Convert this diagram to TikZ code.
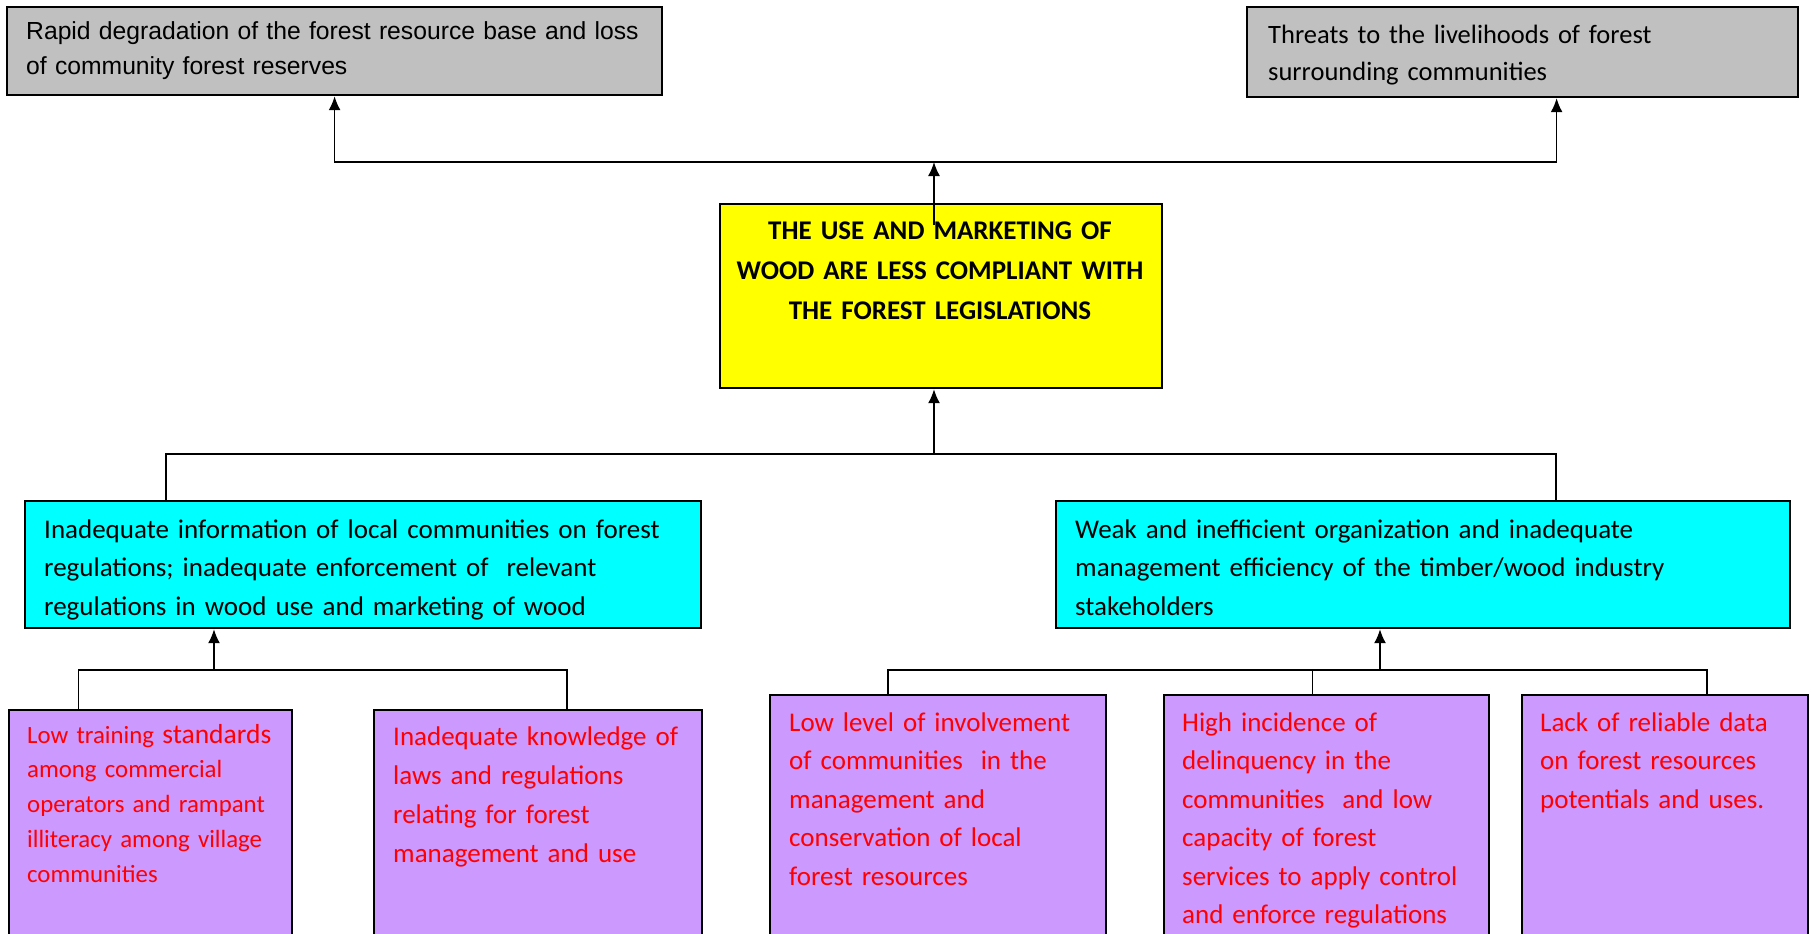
\documentclass[tikz,border=0pt]{standalone}
\usepackage{fontspec}
\setmainfont{Carlito}
\newfontfamily\arialfont{Liberation Sans}
\usetikzlibrary{arrows.meta,calc}

\definecolor{effgray}{RGB}{192,192,192}
\definecolor{coreyellow}{RGB}{255,255,0}
\definecolor{causecyan}{RGB}{0,255,255}
\definecolor{subpurple}{RGB}{204,153,255}

\begin{document}
\begin{tikzpicture}
  [x=1pt,y=-1pt,
   box/.style={draw,rectangle,line width=2.2pt,anchor=north west,inner sep=0pt},
   txt/.style={anchor=base west,align=left,inner sep=0pt,text width=#1},
   txt/.default=680pt,
   redtxt/.style={txt=320pt,text=red,font=\fontsize{27}{38.5}\selectfont},
   link/.style={line width=1.6pt},
   arr/.style={link,-{Latex[length=14pt,width=12pt]}}]
  \useasboundingbox (0,0) rectangle (1812,934);

  % boxes
  \node[box,fill=effgray,minimum width=655pt,minimum height=88pt] (eff1) at (6,6) {};
  \node[box,fill=effgray,minimum width=551pt,minimum height=90pt] (eff2) at (1246,6) {};
  \node[box,fill=coreyellow,minimum width=442pt,minimum height=184pt] (core) at (719,203) {};
  \node[box,fill=causecyan,minimum width=676pt,minimum height=127pt] (cause1) at (24,500) {};
  \node[box,fill=causecyan,minimum width=734pt,minimum height=127pt] (cause2) at (1055,500) {};
  \node[box,fill=subpurple,minimum width=283pt,minimum height=260pt] (sub1) at (8,709) {};
  \node[box,fill=subpurple,minimum width=328pt,minimum height=260pt] (sub2) at (373,709) {};
  \node[box,fill=subpurple,minimum width=336pt,minimum height=275pt] (sub3) at (769,694) {};
  \node[box,fill=subpurple,minimum width=325pt,minimum height=275pt] (sub4) at (1163,694) {};
  \node[box,fill=subpurple,minimum width=286pt,minimum height=275pt] (sub5) at (1521,694) {};

  % texts
  \node[txt,font=\arialfont\fontsize{24.7}{35}\selectfont] (eff1txt) at (26,40)
    {Rapid degradation of the forest resource base and loss\\of community forest reserves};
  \node[txt,font=\fontsize{26.5}{37}\selectfont] (eff2txt) at (1268,44)
    {Threats to the livelihoods of forest\\surrounding communities};
  \node[txt=430pt,anchor=base,align=center,font=\bfseries\fontsize{27}{40}\selectfont] (coretxt) at (940,239)
    {THE USE AND MARKETING OF\\WOOD ARE LESS COMPLIANT WITH\\THE FOREST LEGISLATIONS};
  \node[txt,font=\fontsize{27}{38.7}\selectfont] (cause1txt) at (44,538)
    {Inadequate information of local communities on forest\\regulations; inadequate enforcement of\ \ relevant\\regulations in wood use and marketing of wood};
  \node[txt,font=\fontsize{27}{38.7}\selectfont] (cause2txt) at (1075,538)
    {Weak and inefficient organization and inadequate\\management efficiency of the timber/wood industry\\stakeholders};
  \node[redtxt,font=\fontsize{24.8}{34.8}\selectfont] (sub1txt) at (27,743)
    {Low training {\fontsize{27.5}{34.8}\selectfont standards}\\among commercial\\operators and rampant\\illiteracy among village\\communities};
  \node[redtxt,font=\fontsize{27}{39}\selectfont] (sub2txt) at (393,745)
    {Inadequate knowledge of\\laws and regulations\\relating for forest\\management and use};
  \node[redtxt] (sub3txt) at (789,731)
    {Low level of involvement\\of communities\ \ in the\\management and\\conservation of local\\forest resources};
  \node[redtxt] (sub4txt) at (1182,731)
    {High incidence of\\delinquency in the\\communities\ \ and low\\capacity of forest\\services to apply control\\and enforce regulations};
  \node[redtxt] (sub5txt) at (1540,731)
    {Lack of reliable data\\on forest resources\\potentials and uses.};

  % connectors
  \coordinate (top) at (934,162);
  \coordinate (mid) at (934,454);
  \coordinate (lowL) at (214,670);
  \coordinate (lowR) at (1380,670);
  \draw[arr] ([yshift=-22pt]top |- core.north) -- (top);
  \draw[arr] (top) -| (eff1.south);
  \draw[arr] (top) -| ([xshift=34pt]eff2.south);
  \draw[arr] (mid) -- (mid |- core.south);
  \draw[link] (mid) -| ([xshift=-197pt]cause1.north);
  \draw[link] (mid) -| ([xshift=133pt]cause2.north);
  \draw[arr] (lowL) -- (lowL |- cause1.south);
  \draw[link] (lowL) -| ([xshift=-72pt]sub1.north);
  \draw[link] (lowL) -| ([xshift=29pt]sub2.north);
  \draw[link] (lowR) -| ([xshift=-50pt]sub3.north);
  \draw[link] (lowR) -| ([xshift=-14pt]sub4.north);
  \draw[link] (lowR) -| ([xshift=42pt]sub5.north);
  \draw[arr] (lowR) -- (lowR |- cause2.south);
\end{tikzpicture}
\end{document}
